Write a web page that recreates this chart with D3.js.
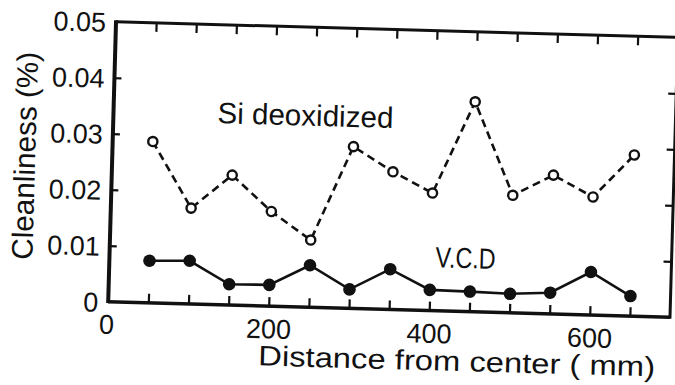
<!DOCTYPE html>
<html><head><meta charset="utf-8">
<script src="https://cdn.jsdelivr.net/npm/d3@7"></script>
<style>body{margin:0;background:#fff}svg{display:block}</style>
</head><body>
<script>
const distances = [50,100,150,200,250,300,350,400,450,500,550,600,650];
const siDeoxidized = [0.0288,0.0171,0.0232,0.0169,0.0120,0.0289,0.0246,0.0210,0.0375,0.0210,0.0248,0.0211,0.0288];
const vcd = [0.0075,0.0077,0.0037,0.0038,0.0075,0.0034,0.0072,0.0037,0.0036,0.0034,0.0038,0.0077,0.0036];
const xTickValues = [50,100,150,200,250,300,350,400,450,500,550,600,650];
const xTickLabels = {200:"200",400:"400",600:"600"};
const yTickValues = [0,0.01,0.02,0.03,0.04,0.05];
const yTickLabels = ["0","0.01","0.02","0.03","0.04","0.05"];
const seriesNames = ["Si deoxidized","V.C.D"];
const xTitle = "Distance from center ( mm)";
const yTitle = "Cleanliness (%)";

const W=675,H=385;
const L=112,R=674,T=29.5,B=309.5;
const ink="#111";
const font="'Liberation Sans', Arial, sans-serif";

const svg=d3.select("body").append("svg").attr("width",W).attr("height",H);
const g=svg.append("g").attr("transform","rotate(1.6,391.5,169.5)");

const x=d3.scaleLinear().domain([0,700]).range([L,R]);
const y=d3.scaleLinear().domain([0,0.05]).range([B,T]);

// frame
g.append("line").attr("x1",L).attr("x2",R).attr("y1",T).attr("y2",T).attr("stroke",ink).attr("stroke-width",3);
g.append("line").attr("x1",L).attr("x2",R).attr("y1",B).attr("y2",B).attr("stroke",ink).attr("stroke-width",3.5);
g.append("line").attr("x1",L).attr("x2",L).attr("y1",T-1.5).attr("y2",B+1.5).attr("stroke",ink).attr("stroke-width",4);
g.append("line").attr("x1",R).attr("x2",R).attr("y1",T-1.5).attr("y2",B+1.5).attr("stroke",ink).attr("stroke-width",3);

function styleAxis(sel){
  sel.select(".domain").remove();
  sel.selectAll(".tick line").attr("stroke",ink).attr("stroke-width",2.2);
  sel.selectAll(".tick text").attr("fill",ink).style("font-family",font);
}

// bottom axis
const xb=g.append("g").attr("transform",`translate(0,${B})`)
  .call(d3.axisBottom(x).tickValues(xTickValues).tickSizeInner(-9).tickSizeOuter(0).tickPadding(13)
    .tickFormat(d=>xTickLabels[d]||""));
styleAxis(xb);
xb.selectAll(".tick text").style("font-size","27px");
g.append("text").attr("x",x(0)-1).attr("y",B+13).attr("dy","0.71em").attr("text-anchor","middle")
  .style("font-family",font).style("font-size","27px").attr("fill",ink).text("0");

// top axis
const xt=g.append("g").attr("transform",`translate(0,${T})`)
  .call(d3.axisTop(x).tickValues(xTickValues).tickSizeInner(-9).tickSizeOuter(0).tickFormat(()=>""));
styleAxis(xt);

// left axis
const yl=g.append("g").attr("transform",`translate(${L},0)`)
  .call(d3.axisLeft(y).tickValues(yTickValues).tickSizeInner(-7).tickSizeOuter(0).tickPadding(10)
    .tickFormat((d,i)=>yTickLabels[i]));
styleAxis(yl);
yl.selectAll(".tick text").style("font-size","27px").attr("dy","0.36em");
yl.selectAll(".tick line").filter(d=>d===0||d===0.05).remove();

// right axis
const yr=g.append("g").attr("transform",`translate(${R},0)`)
  .call(d3.axisRight(y).tickValues([0.01,0.02,0.03,0.04]).tickSizeInner(-8).tickSizeOuter(0).tickFormat(()=>""));
styleAxis(yr);

// series
const line=d3.line().x(d=>x(d[0])).y(d=>y(d[1]));
const siData=distances.map((d,i)=>[d,siDeoxidized[i]]);
const vcdData=distances.map((d,i)=>[d,vcd[i]]);

g.append("path").datum(siData).attr("d",line).attr("fill","none").attr("stroke",ink)
  .attr("stroke-width",2.6).attr("stroke-dasharray","8,5");
g.selectAll("circle.si").data(siData).enter().append("circle").attr("class","si")
  .attr("cx",d=>x(d[0])).attr("cy",d=>y(d[1])).attr("r",4.6)
  .attr("fill","#fff").attr("stroke",ink).attr("stroke-width",2.4);

g.append("path").datum(vcdData).attr("d",line).attr("fill","none").attr("stroke",ink).attr("stroke-width",2.6);
g.selectAll("circle.vcd").data(vcdData).enter().append("circle").attr("class","vcd")
  .attr("cx",d=>x(d[0])).attr("cy",d=>y(d[1])).attr("r",6.3).attr("fill",ink);

function fitText(sel, target, base){
  sel.style("font-size",base+"px");
  const len=sel.node().getComputedTextLength();
  if(len>0){
    const fs=Math.max(20,Math.min(36,base*target/len));
    sel.style("font-size",fs+"px");
  }
  return sel;
}

// series labels
fitText(g.append("text").attr("x",216).attr("y",128)
  .style("font-family",font).attr("fill",ink).text(seriesNames[0]),176,28);
g.append("text").attr("x",438).attr("y",266).attr("textLength",60).attr("lengthAdjust","spacingAndGlyphs")
  .style("font-family",font).style("font-size","29px").attr("fill",ink).text(seriesNames[1]);

// axis titles
g.append("text").attr("x",263.5).attr("y",369).attr("textLength",397).attr("lengthAdjust","spacingAndGlyphs")
  .style("font-family",font).style("font-size","28px").attr("fill",ink).text(xTitle);
fitText(g.append("text").attr("transform","translate(35,166) rotate(-90)").attr("text-anchor","middle")
  .style("font-family",font).attr("fill",ink).text(yTitle),208,28);
</script>
</body></html>
